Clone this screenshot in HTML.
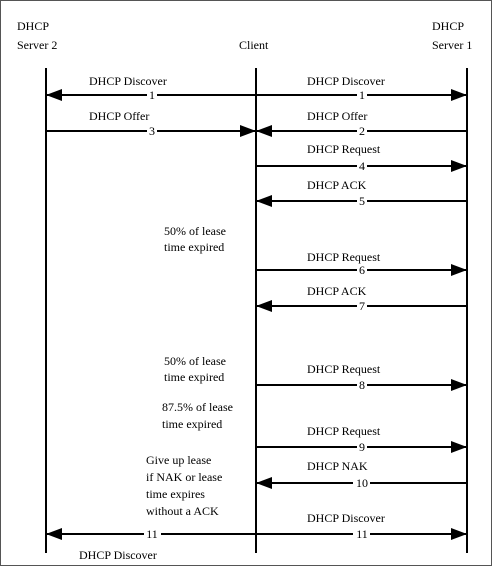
<!DOCTYPE html>
<html><head><style>body{margin:0;background:#fff}</style></head><body>
<svg width="492" height="566" xmlns="http://www.w3.org/2000/svg" font-family="Liberation Serif, serif" font-size="12" fill="#000">
<rect x="0.5" y="0.5" width="491" height="565" fill="#fff" stroke="#555" stroke-width="1"/>
<text x="17" y="30">DHCP</text><text x="17" y="49">Server 2</text>
<text x="239" y="49">Client</text>
<text x="432" y="30">DHCP</text><text x="432" y="49">Server 1</text>
<g stroke="#000" stroke-width="2">
<line x1="46" y1="68" x2="46" y2="553"/><line x1="256" y1="68" x2="256" y2="553"/><line x1="467" y1="68" x2="467" y2="553"/>
<line x1="46" y1="95" x2="467" y2="95"/>
<line x1="46" y1="131" x2="467" y2="131"/>
<line x1="256" y1="166" x2="467" y2="166"/>
<line x1="256" y1="201" x2="467" y2="201"/>
<line x1="256" y1="270" x2="467" y2="270"/>
<line x1="256" y1="306" x2="467" y2="306"/>
<line x1="256" y1="385" x2="467" y2="385"/>
<line x1="256" y1="447" x2="467" y2="447"/>
<line x1="256" y1="483" x2="467" y2="483"/>
<line x1="46" y1="534" x2="467" y2="534"/>
</g>
<g>
<polygon points="46,95 62,89 62,101"/><polygon points="467,95 451,89 451,101"/>
<polygon points="256,131 240,125 240,137"/><polygon points="256,131 272,125 272,137"/>
<polygon points="467,166 451,160 451,172"/>
<polygon points="256,201 272,195 272,207"/>
<polygon points="467,270 451,264 451,276"/>
<polygon points="256,306 272,300 272,312"/>
<polygon points="467,385 451,379 451,391"/>
<polygon points="467,447 451,441 451,453"/>
<polygon points="256,483 272,477 272,489"/>
<polygon points="46,534 62,528 62,540"/><polygon points="467,534 451,528 451,540"/>
</g>
<g fill="#fff">
<rect x="147" y="89" width="10" height="12"/><rect x="357" y="89" width="10" height="12"/>
<rect x="147" y="125" width="10" height="12"/><rect x="357" y="125" width="10" height="12"/>
<rect x="357" y="160" width="10" height="12"/><rect x="357" y="195" width="10" height="12"/>
<rect x="357" y="264" width="10" height="12"/><rect x="357" y="300" width="10" height="12"/>
<rect x="357" y="379" width="10" height="12"/><rect x="357" y="441" width="10" height="12"/>
<rect x="353" y="477" width="17" height="12"/><rect x="144" y="528" width="17" height="12"/><rect x="353" y="528" width="17" height="12"/>
</g>
<g text-anchor="middle">
<text x="152" y="99">1</text><text x="362" y="99">1</text>
<text x="152" y="135">3</text><text x="362" y="135">2</text>
<text x="362" y="170">4</text><text x="362" y="205">5</text>
<text x="362" y="274">6</text><text x="362" y="310">7</text>
<text x="362" y="389">8</text><text x="362" y="451">9</text>
<text x="362" y="487">10</text><text x="152" y="538">11</text><text x="362" y="538">11</text>
</g>
<text x="89" y="85">DHCP Discover</text><text x="307" y="85">DHCP Discover</text>
<text x="89" y="120">DHCP Offer</text><text x="307" y="120">DHCP Offer</text>
<text x="307" y="153">DHCP Request</text>
<text x="307" y="189">DHCP ACK</text>
<text x="164" y="235">50% of lease</text><text x="164" y="251">time expired</text>
<text x="307" y="261">DHCP Request</text>
<text x="307" y="295">DHCP ACK</text>
<text x="164" y="365">50% of lease</text><text x="164" y="381">time expired</text>
<text x="307" y="373">DHCP Request</text>
<text x="162" y="411">87.5% of lease</text><text x="162" y="428">time expired</text>
<text x="307" y="435">DHCP Request</text>
<text x="146" y="464">Give up lease</text><text x="146" y="481">if NAK or lease</text>
<text x="146" y="498">time expires</text><text x="146" y="515">without a ACK</text>
<text x="307" y="470">DHCP NAK</text>
<text x="307" y="522">DHCP Discover</text>
<text x="79" y="559">DHCP Discover</text>
</svg>
</body></html>
